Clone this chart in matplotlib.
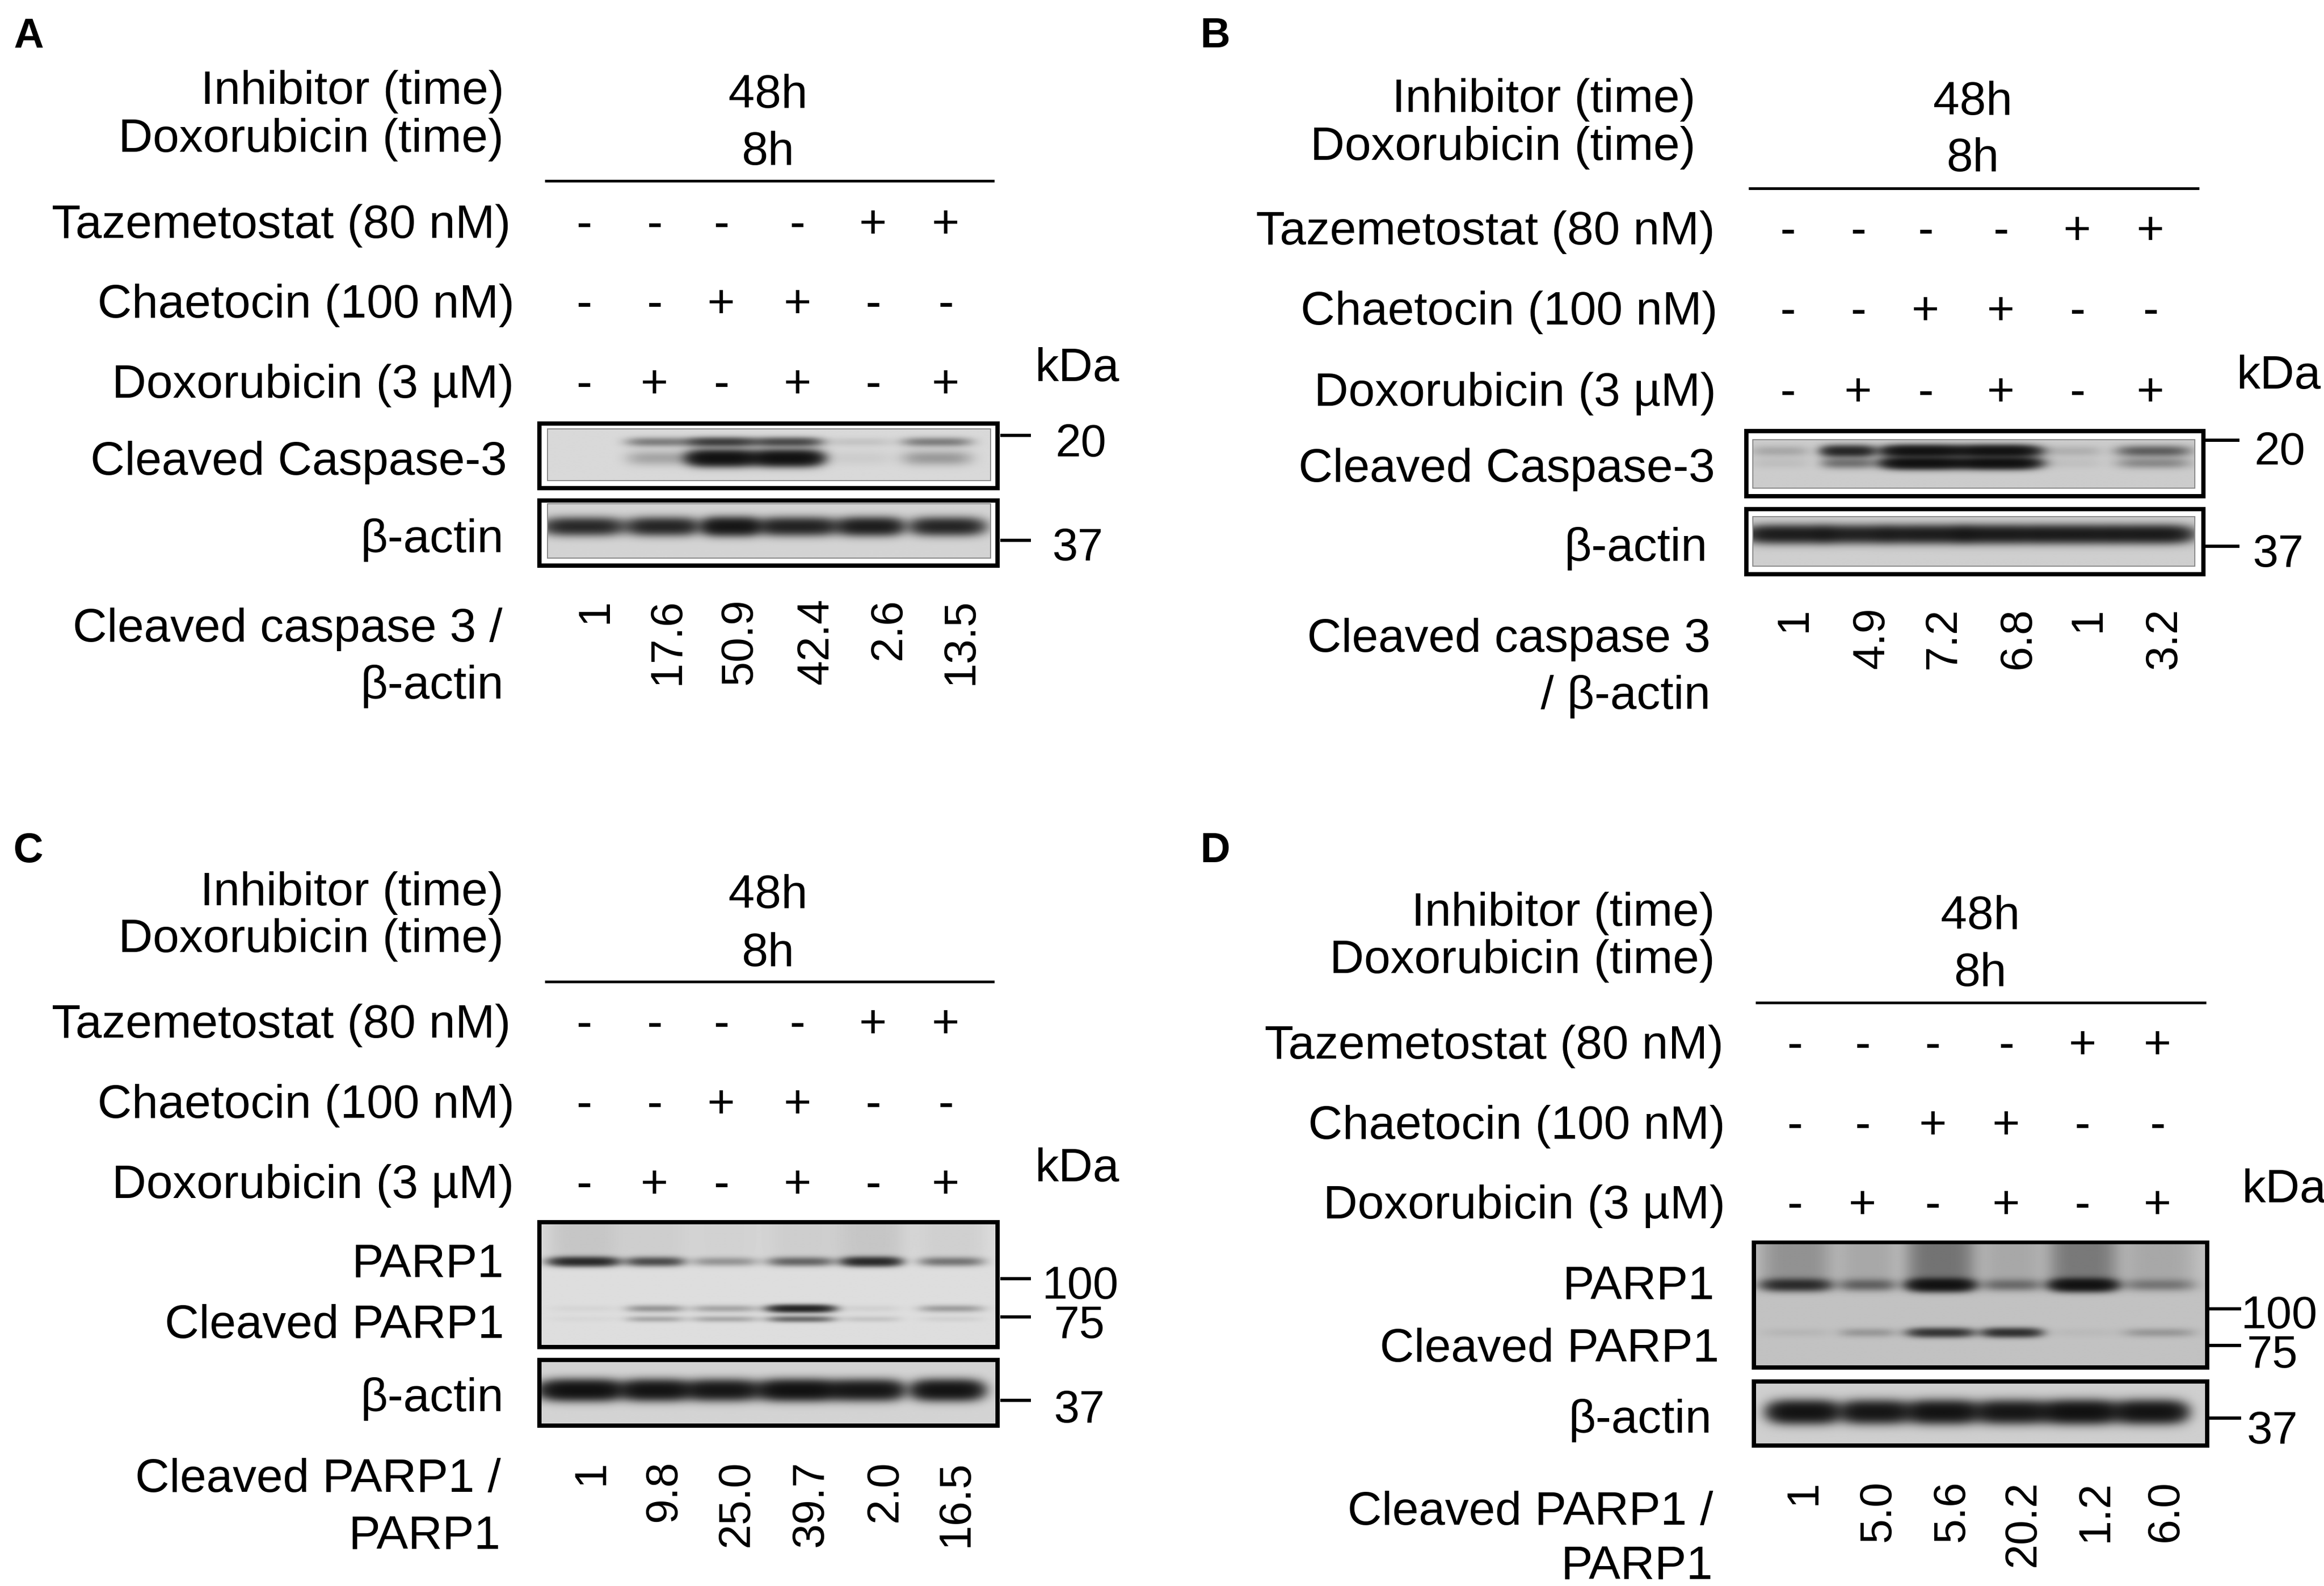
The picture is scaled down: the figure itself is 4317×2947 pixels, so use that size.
import numpy as np
import matplotlib
matplotlib.use("Agg")
import matplotlib.pyplot as plt
from matplotlib.patches import Rectangle

# ---------------- data ----------------
lanes = [1, 2, 3, 4, 5, 6]
tazemetostat = [0, 0, 0, 0, 1, 1]
chaetocin = [0, 0, 1, 1, 0, 0]
doxorubicin = [0, 1, 0, 1, 0, 1]

ratio_A = ["1", "17.6", "50.9", "42.4", "2.6", "13.5"]
ratio_B = ["1", "4.9", "7.2", "6.8", "1", "3.2"]
ratio_C = ["1", "9.8", "25.0", "39.7", "2.0", "16.5"]
ratio_D = ["1", "5.0", "5.6", "20.2", "1.2", "6.0"]

# band densities (relative, per lane)
A_casp_upper = [0.0, 0.55, 1.3, 1.1, 0.10, 0.55]
A_casp_lower = [0.0, 0.28, 3.0, 3.0, 0.06, 0.35]
A_actin = [1.8, 1.9, 2.6, 2.0, 2.2, 1.9]
B_casp_upper = [0.20, 1.8, 2.8, 2.8, 0.15, 0.8]
B_casp_lower = [0.07, 0.6, 3.0, 3.0, 0.06, 0.4]
B_actin = [2.2, 2.0, 2.2, 2.3, 2.3, 2.3]
C_parp = [1.8, 1.1, 0.40, 0.80, 1.8, 0.65]
C_cleaved_upper = [0.04, 0.40, 0.30, 2.0, 0.06, 0.35]
C_cleaved_lower = [0.03, 0.28, 0.28, 0.75, 0.12, 0.06]
C_actin = [3.0, 2.8, 2.6, 3.0, 2.6, 2.8]
C_well = [0.12, 0.08, 0.06, 0.08, 0.12, 0.07]
D_parp = [1.6, 0.7, 2.8, 0.6, 2.8, 0.5]
D_cleaved = [0.06, 0.25, 1.4, 1.5, 0.04, 0.25]
D_actin = [2.8, 2.6, 2.8, 2.6, 3.0, 2.8]
D_well = [0.30, 0.15, 0.55, 0.15, 0.50, 0.15]

# ---------------- geometry ----------------
S = 4317 / 1568.0
W = 1568.0
H = 2947 / S
DPI = 100


def fs(em):
    return em * S * 72.0 / DPI


def lw(px):
    return px * 72.0 / DPI


FONT = ["Liberation Sans", "Arial", "DejaVu Sans"]
plt.rcParams["font.family"] = FONT
F_TXT = fs(32)
F_MW = fs(31)
F_NUM = fs(30)
F_LET = fs(28)

fig = plt.figure(figsize=(4317 / DPI, 2947 / DPI), dpi=DPI)
ax = fig.add_axes([0, 0, 1, 1])
ax.set_xlim(0, W)
ax.set_ylim(H, 0)
ax.axis("off")


def txt(x, y, s, ha="right", va="baseline", size=F_TXT, **kw):
    ax.text(x, y, s, ha=ha, va=va, fontsize=size, color="black", **kw)


def blot(outer, inner, bg, rows, smear=None, edge=False):
    x0, y0, x1, y1 = outer
    bw = 8.0
    hw = bw / 2 / S
    ax.add_patch(Rectangle((x0 + hw, y0 + hw), x1 - x0 - 2 * hw, y1 - y0 - 2 * hw,
                           facecolor="white", edgecolor="black", lw=lw(bw), zorder=2))
    ix0, iy0, ix1, iy1 = inner
    nx = int((ix1 - ix0) * S)
    ny = int((iy1 - iy0) * S)
    xs = np.linspace(ix0, ix1, nx)
    ys = np.linspace(iy0, iy1, ny)
    X, Y = np.meshgrid(xs, ys)
    D = np.zeros_like(X)
    for r in rows:
        for xc, w, a in zip(r["xs"], r["ws"], r["amps"]):
            wx = w / 2 / 0.912
            D += a * np.exp(-np.abs((X - xc) / wx) ** 4) * \
                np.exp(-((Y - r["y"]) / (r["fwhm"] / 1.665)) ** 2)
    if smear is not None:
        for xc, w, a in zip(smear["xs"], smear["ws"], smear["amps"]):
            wx = w / 2 / 0.912
            D += a * np.exp(-np.abs((X - xc) / wx) ** 4) / \
                (1 + np.exp((Y - smear["yend"]) / 1.5))
    img = bg - (bg - 0.03) * (1 - np.exp(-D))
    ax.imshow(img, cmap="gray", vmin=0, vmax=1, extent=(ix0, ix1, iy1, iy0),
              aspect="auto", interpolation="bilinear", zorder=3)
    if edge:
        ax.add_patch(Rectangle((ix0, iy0), ix1 - ix0, iy1 - iy0, facecolor="none",
                               edgecolor="#8a8a8a", lw=lw(2), zorder=4))


def header(p):
    txt(p["let"][0], p["let"][1], p["letter"], ha="left", size=F_LET, fontweight="bold")
    txt(p["hdr_r"], p["hdr_b"][0], "Inhibitor (time)")
    txt(p["hdr_r"], p["hdr_b"][1], "Doxorubicin (time)")
    txt(p["time_x"], p["time_b"][0], "48h", ha="center")
    txt(p["time_x"], p["time_b"][1], "8h", ha="center")
    ax.plot([p["line"][0], p["line"][1]], [p["line"][2], p["line"][2]],
            color="black", lw=lw(5), solid_capstyle="butt")
    names = ["Tazemetostat (80 nM)", "Chaetocin (100 nM)", "Doxorubicin (3 \u00b5M)"]
    vals = [tazemetostat, chaetocin, doxorubicin]
    for name, v, r, b in zip(names, vals, p["row_r"], p["row_b"]):
        txt(r, b, name)
        for x, on in zip(p["sym_x"], v):
            txt(x, b, "+" if on else "-", ha="center")
    txt(p["kda"][0], p["kda"][1], "kDa", ha="left")
    for (x0, x1, y) in p["ticks"]:
        ax.plot([x0, x1], [y, y], color="black", lw=lw(6), solid_capstyle="butt")
    for (x, b, s) in p["mw"]:
        txt(x, b, s, ha="left", size=F_MW)
    for (x, b, s) in p["labels"]:
        txt(x, b, s)
    for (x, b, s) in p["qlab"]:
        txt(x, b, s)
    for x, s in zip(p["num_x"], p["ratio"]):
        txt(x + 3, p["num_top"], s, ha="center", va="top", size=F_NUM, rotation=90)


# ---------------- panel A ----------------
pA = dict(letter="A", let=(9, 32), hdr_r=340, hdr_b=(70, 102.4), time_x=518,
          time_b=(72.6, 111.3), line=(367.7, 671, 121.9),
          row_r=(344.7, 347, 347), row_b=(160.4, 214.4, 268.5),
          sym_x=[394, 441.6, 486.6, 538, 589, 638], kda=(698, 257),
          ticks=[(675, 695.5, 294), (675, 695.5, 364.7)],
          mw=[(712, 308, "20"), (710, 378, "37")],
          labels=[(342, 320.5, "Cleaved Caspase-3"), (340, 372.6, "\u03b2-actin")],
          qlab=[(339, 433, "Cleaved caspase 3 /"), (340, 471.5, "\u03b2-actin")],
          num_x=[398.5, 447.4, 496, 547.6, 596.5, 645.4], num_top=403.8, ratio=ratio_A)
header(pA)
cx_A = [393.6, 444.8, 486.6, 531, 580, 632]
blot((362.5, 284.5, 674.5, 331), (369.4, 289.5, 668.4, 324.4), 0.85,
     [dict(y=298.5, fwhm=5.0, xs=cx_A, ws=[40, 40, 40, 42, 40, 42], amps=A_casp_upper),
      dict(y=309.4, fwhm=8.0, xs=cx_A, ws=[40, 40, 40, 42, 40, 42], amps=A_casp_lower)],
     edge=True)
ax_A = [393.6, 447.5, 492.6, 537.8, 587.6, 639]
blot((362.5, 336.4, 674.5, 383.2), (369.4, 340, 668.4, 376.6), 0.83,
     [dict(y=355.3, fwhm=9.0, xs=ax_A, ws=[48, 43, 33, 50, 38, 44], amps=A_actin)],
     edge=True)

# ---------------- panel B ----------------
pB = dict(letter="B", let=(810, 32), hdr_r=1144, hdr_b=(75.5, 107.7), time_x=1331,
          time_b=(77.3, 115.5), line=(1179.6, 1483.8, 127),
          row_r=(1157, 1159, 1158), row_b=(164.9, 218.9, 273.9),
          sym_x=[1206.3, 1253.7, 1299, 1350, 1401.5, 1451], kda=(1509, 262.3),
          ticks=[(1488, 1511, 297), (1488, 1511, 368.7)],
          mw=[(1521, 313.5, "20"), (1520, 382.5, "37")],
          labels=[(1157, 325, "Cleaved Caspase-3"), (1152, 378.6, "\u03b2-actin")],
          qlab=[(1154, 440, "Cleaved caspase 3"), (1154, 478.3, "/ \u03b2-actin")],
          num_x=[1207.5, 1260, 1308, 1358.5, 1406, 1457], num_top=409.8, ratio=ratio_B)
header(pB)
cx_B = [1200.9, 1246.6, 1296.4, 1348, 1399.7, 1452.9]
blot((1176.7, 289.5, 1488, 336.4), (1182.7, 296.6, 1481, 329.3), 0.80,
     [dict(y=304.5, fwhm=6.0, xs=cx_B, ws=[35, 32, 48, 50, 33, 44], amps=B_casp_upper),
      dict(y=312.6, fwhm=6.0, xs=cx_B, ws=[35, 32, 48, 50, 33, 44], amps=B_casp_lower)],
     edge=True)
blot((1176.7, 342, 1488, 389), (1182.7, 348.7, 1481, 382), 0.81,
     [dict(y=360.5, fwhm=9.0, xs=[1206, 1252, 1300, 1350, 1401, 1451],
           ws=[50, 46, 52, 52, 50, 50], amps=B_actin)],
     edge=True)

# ---------------- panel C ----------------
pC = dict(letter="C", let=(9, 582), hdr_r=339.8, hdr_b=(611, 642.6), time_x=518,
          time_b=(612.8, 652), line=(367.6, 670.8, 662.5),
          row_r=(344.7, 347, 347), row_b=(700.4, 754.4, 808.4),
          sym_x=[394, 441.6, 486.6, 538, 589, 638], kda=(698, 797.3),
          ticks=[(675, 695.5, 863), (675, 695.5, 888.7), (675, 695.5, 945)],
          mw=[(703, 876.5, "100"), (711, 903, "75"), (711, 960, "37")],
          labels=[(340, 862, "PARP1"), (340, 903, "Cleaved PARP1"),
                  (340, 952.5, "\u03b2-actin")],
          qlab=[(338, 1007, "Cleaved PARP1 /"), (338, 1045.5, "PARP1")],
          num_x=[396, 445, 494, 544, 594, 642], num_top=985.6, ratio=ratio_C)
header(pC)
px_C = [394, 442, 489, 540.5, 588, 642]
pw_C = [42, 35, 40, 40, 36, 39]
blot((362.5, 823.5, 674.5, 910.6), (365.5, 826.4, 671.5, 907.7), 0.87,
     [dict(y=851.5, fwhm=5.0, xs=px_C, ws=pw_C, amps=C_parp),
      dict(y=883.3, fwhm=4.0, xs=px_C, ws=pw_C, amps=C_cleaved_upper),
      dict(y=890.4, fwhm=3.5, xs=px_C, ws=pw_C, amps=C_cleaved_lower)],
     smear=dict(xs=px_C, ws=[48, 42, 46, 46, 44, 46], amps=C_well, yend=849))
blot((362.5, 916.5, 674.5, 963.7), (365.5, 919.4, 671.5, 960.8), 0.83,
     [dict(y=938.3, fwhm=10.0, xs=[392.7, 442.6, 486.6, 539, 586.3, 639.3],
           ws=[50, 38, 43, 49, 41, 42], amps=C_actin)])

# ---------------- panel D ----------------
pD = dict(letter="D", let=(810, 582), hdr_r=1156.9, hdr_b=(624.9, 656.6), time_x=1336,
          time_b=(626.8, 665.5), line=(1184.6, 1488.3, 676.7),
          row_r=(1163, 1164, 1164), row_b=(714.3, 768.4, 822.4),
          sym_x=[1210.8, 1256.7, 1304, 1353.6, 1405, 1455.5], kda=(1512.5, 811.6),
          ticks=[(1490.5, 1512, 883.2), (1490.5, 1512, 908), (1490.5, 1512, 957)],
          mw=[(1512, 896.5, "100"), (1516, 923, "75"), (1516, 974, "37")],
          labels=[(1157, 877, "PARP1"), (1160, 919, "Cleaved PARP1"),
                  (1155, 967, "\u03b2-actin")],
          qlab=[(1155.8, 1029, "Cleaved PARP1 /"), (1155.8, 1066, "PARP1")],
          num_x=[1214, 1264, 1314, 1362, 1411, 1458], num_top=999, ratio=ratio_D)
header(pD)
px_D = [1211.8, 1260, 1309.3, 1357.4, 1405.5, 1456.7]
pw_D = [42, 34, 40, 36, 40, 43]
blot((1181.8, 837.2, 1490.5, 924.4), (1184.8, 840.1, 1487.5, 921.5), 0.76,
     [dict(y=867.5, fwhm=6.5, xs=px_D, ws=pw_D, amps=D_parp),
      dict(y=899.6, fwhm=5.0, xs=px_D, ws=pw_D, amps=D_cleaved)],
     smear=dict(xs=px_D, ws=[44, 36, 42, 38, 42, 44], amps=D_well, yend=865))
blot((1181.8, 931, 1490.5, 977), (1184.8, 933.9, 1487.5, 974.1), 0.81,
     [dict(y=953.0, fwhm=11.0, xs=[1217, 1265, 1310.6, 1357.4, 1403.4, 1451],
           ws=[42, 40, 42, 42, 44, 42], amps=D_actin)])

fig.savefig("out.png", dpi=DPI, facecolor="white")
